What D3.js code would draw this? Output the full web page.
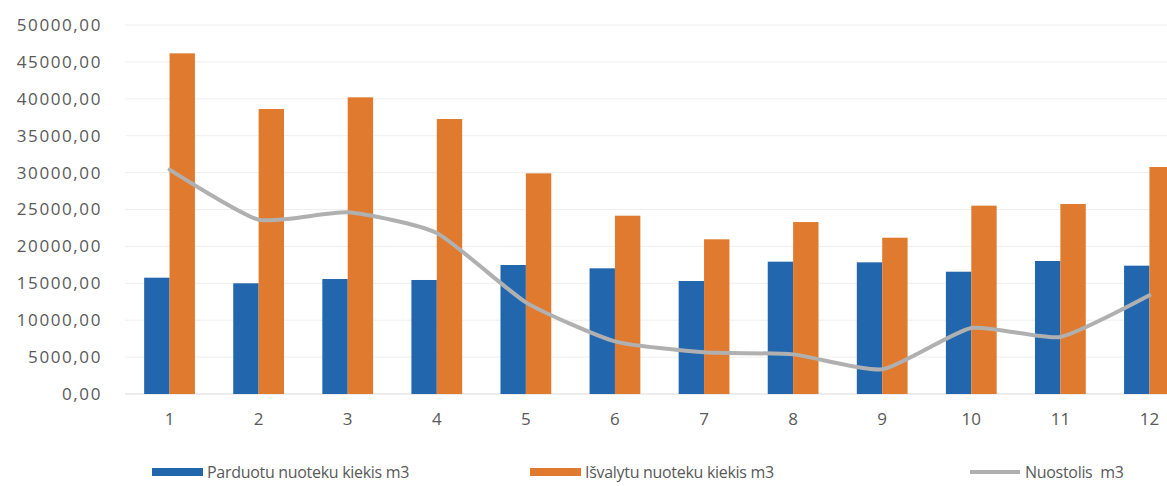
<!DOCTYPE html>
<html>
<head>
<meta charset="utf-8">
<script src="https://cdn.jsdelivr.net/npm/d3@7"></script>
<style>
  body { margin: 0; background: #fff; }
  svg { display: block; font-family: "Open Sans", sans-serif; }
</style>
</head>
<body>
<svg id="chart"></svg>
<script>
// months 1..12
const categories = ["1", "2", "3", "4", "5", "6", "7", "8", "9", "10", "11", "12"];
const parduota = [15760, 15000, 15580, 15450, 17480, 17030, 15310, 17930, 17840, 16570, 18020, 17390];
const isvalyta = [46160, 38620, 40200, 37260, 29900, 24160, 20960, 23300, 21180, 25520, 25750, 30760];
const nuostolis = [30400, 23620, 24620, 21810, 12420, 7130, 5650, 5370, 3340, 8950, 7730, 13370];
const yTicks = [0, 5000, 10000, 15000, 20000, 25000, 30000, 35000, 40000, 45000, 50000];
const seriesNames = ["Parduotu nuoteku kiekis m3", "Išvalytu nuoteku kiekis m3", "Nuostolis  m3"];

const width = 1167, height = 486;
const margin = {top: 25, right: -27, bottom: 92, left: 125};
const colors = ["#2266ad", "#df7a2e", "#b0b0b0"];

const svg = d3.select("#chart")
    .attr("width", width)
    .attr("height", height)
    .attr("viewBox", [0, 0, width, height]);

const x = d3.scaleBand(categories, [margin.left, width - margin.right])
    .paddingInner(0.43)
    .paddingOuter(0.215);

const y = d3.scaleLinear([0, 50000], [height - margin.bottom, margin.top]);

const fmt = v => d3.format(".2f")(v).replace(".", ",");

// gridlines
svg.append("g")
    .selectAll("line")
    .data(yTicks)
    .join("line")
        .attr("x1", margin.left)
        .attr("x2", width)
        .attr("y1", d => y(d))
        .attr("y2", d => y(d))
        .attr("stroke", d => d === 0 ? "#d9d9d9" : "#efefef")
        .attr("stroke-width", 1);

// y axis labels
const yAxis = svg.append("g")
    .attr("transform", `translate(102, 0)`)
    .call(d3.axisLeft(y).tickValues(yTicks).tickFormat(fmt).tickSize(0).tickPadding(0));
yAxis.select(".domain").remove();
yAxis.selectAll("text")
    .attr("fill", "#595959")
    .style("font-size", "17px")
    .style("letter-spacing", "1.6px")
    .style("font-family", "'Open Sans', sans-serif");

// x axis labels
const xAxis = svg.append("g")
    .attr("transform", `translate(0, ${y(0) + 19})`)
    .call(d3.axisBottom(x).tickSize(0).tickPadding(0));
xAxis.select(".domain").remove();
xAxis.selectAll("text")
    .attr("fill", "#595959")
    .style("font-size", "17px")
    .style("font-family", "'Open Sans', sans-serif");

// bars
const half = x.bandwidth() / 2;
const barGroups = [parduota, isvalyta];
barGroups.forEach((vals, i) => {
    svg.append("g")
        .selectAll("rect")
        .data(vals)
        .join("rect")
            .attr("x", (d, j) => x(categories[j]) + i * half)
            .attr("width", half)
            .attr("y", d => y(d))
            .attr("height", d => y(0) - y(d))
            .attr("fill", colors[i]);
});

// loss line (smoothed, like excel)
const line = d3.line()
    .x((d, j) => x(categories[j]) + half)
    .y(d => y(d))
    .curve(d3.curveCardinal.tension(0.45));

svg.append("path")
    .datum(nuostolis)
    .attr("d", line)
    .attr("fill", "none")
    .attr("stroke", colors[2])
    .attr("stroke-width", 4)
    .attr("stroke-linecap", "round");

// legend
const legendY = 472;
const legendItems = [
    {x: 152, name: seriesNames[0], type: "rect"},
    {x: 530, name: seriesNames[1], type: "rect"},
    {x: 970, name: seriesNames[2], type: "line"}
];
const legend = svg.append("g");
legendItems.forEach((it, i) => {
    const g = legend.append("g").attr("transform", `translate(${it.x}, ${legendY})`);
    if (it.type === "rect") {
        g.append("rect")
            .attr("x", 0).attr("y", -4)
            .attr("width", 51).attr("height", 8)
            .attr("fill", colors[i]);
    } else {
        g.append("line")
            .attr("x1", 0).attr("x2", 50)
            .attr("stroke", colors[i])
            .attr("stroke-width", 4);
    }
    g.append("text")
        .attr("x", 55)
        .attr("dy", "0.35em")
        .attr("fill", "#595959")
        .style("font-size", "16px")
        .style("letter-spacing", "-0.3px")
        .style("white-space", "pre")
        .text(it.name);
});
</script>
</body>
</html>
